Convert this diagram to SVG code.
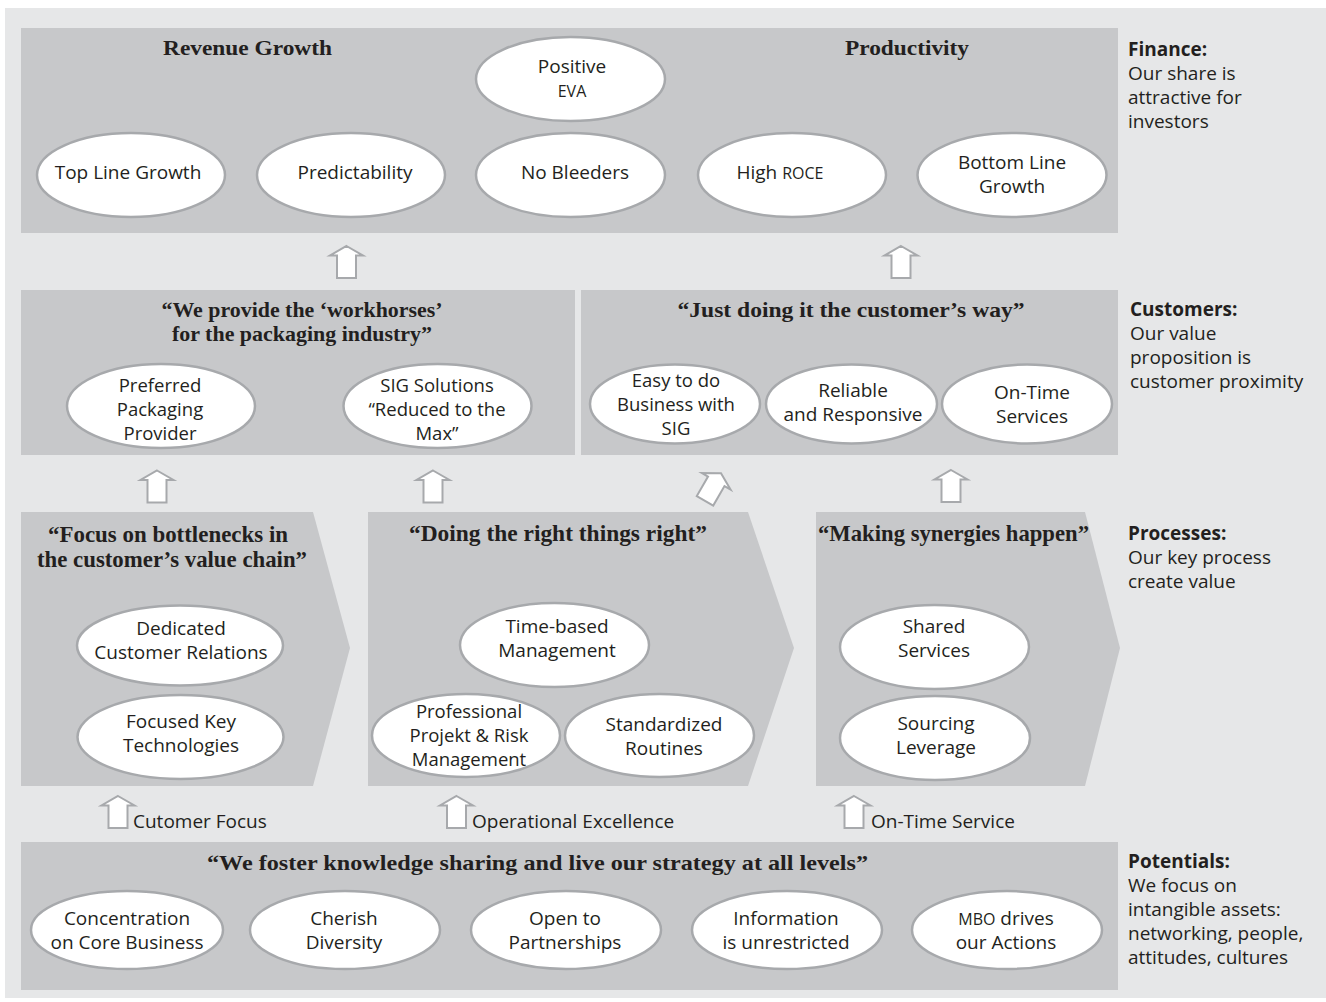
<svg xmlns="http://www.w3.org/2000/svg" width="1326" height="1002" viewBox="0 0 1326 1002">
<defs>
<style>
.bg{fill:#e6e7e8}
.box{fill:#c7c8ca}
.el{fill:#ffffff;stroke:#a7a9ac;stroke-width:2.5}
.t{font-family:"Open Sans","DejaVu Sans",sans-serif;font-size:19px;fill:#231f20;text-anchor:middle}
.t3{font-size:18.5px}
.sc{font-size:16px}
.h{font-family:"Liberation Serif","Times New Roman",serif;font-weight:700;font-size:21px;fill:#231f20;text-anchor:middle}
.hp{font-size:22.5px}
.lab{font-family:"Open Sans","DejaVu Sans",sans-serif;font-size:19px;fill:#231f20}
.b{font-weight:700}
</style>
<path id="arrow" d="M0,-16 L16.5,-6.5 L9.5,-6.5 L9.5,16 L-9.5,16 L-9.5,-6.5 L-16.5,-6.5 Z" fill="#ffffff" stroke="#a7a9ac" stroke-width="2"/>
</defs>

<rect class="bg" x="5" y="8" width="1321" height="990"/>

<!-- Finance -->
<g id="finance">
<rect class="box" x="21" y="28" width="1097" height="205"/>
<text class="h" x="247.5" y="55" textLength="169" lengthAdjust="spacingAndGlyphs">Revenue Growth</text>
<text class="h" x="907" y="55" textLength="124" lengthAdjust="spacingAndGlyphs">Productivity</text>
</g>
<g id="positive-eva">
<ellipse class="el" cx="570.5" cy="79" rx="94.5" ry="42"/>
<text class="t" x="572" y="73">Positive</text>
<text class="t sc" x="572" y="97">EVA</text>
</g>
<g id="top-line-growth">
<ellipse class="el" cx="131" cy="175" rx="94" ry="42"/>
<text class="t" x="128" y="179">Top Line Growth</text>
</g>
<g id="predictability">
<ellipse class="el" cx="351" cy="175" rx="94" ry="42"/>
<text class="t" x="355" y="179">Predictability</text>
</g>
<g id="no-bleeders">
<ellipse class="el" cx="570.5" cy="175" rx="94.5" ry="42"/>
<text class="t" x="575" y="179">No Bleeders</text>
</g>
<g id="high-roce">
<ellipse class="el" cx="792" cy="175" rx="94" ry="42"/>
<text class="t" x="780" y="179">High <tspan class="sc">ROCE</tspan></text>
</g>
<g id="bottom-line-growth">
<ellipse class="el" cx="1012" cy="175" rx="94.5" ry="42"/>
<text class="t" x="1012" y="169">Bottom Line</text>
<text class="t" x="1012" y="193">Growth</text>
</g>

<!-- Customers -->
<g id="customers-left">
<rect class="box" x="21" y="290" width="554" height="165"/>
<text class="h" x="302" y="317" textLength="281" lengthAdjust="spacingAndGlyphs">“We provide the ‘workhorses’</text>
<text class="h" x="302" y="341" textLength="260" lengthAdjust="spacingAndGlyphs">for the packaging industry”</text>
</g>
<g id="customers-right">
<rect class="box" x="581" y="290" width="537" height="165"/>
<text class="h" x="851" y="317" textLength="347" lengthAdjust="spacingAndGlyphs">“Just doing it the customer’s way”</text>
</g>
<g id="preferred-packaging-provider">
<ellipse class="el" cx="161" cy="406" rx="94" ry="42"/>
<text class="t t3" x="160" y="392">Preferred</text>
<text class="t t3" x="160" y="416">Packaging</text>
<text class="t t3" x="160" y="440">Provider</text>
</g>
<g id="sig-solutions">
<ellipse class="el" cx="437.5" cy="406" rx="94" ry="42"/>
<text class="t t3" x="437" y="392">SIG Solutions</text>
<text class="t t3" x="437" y="416">“Reduced to the</text>
<text class="t t3" x="437" y="440">Max”</text>
</g>
<g id="easy-business">
<ellipse class="el" cx="675" cy="404" rx="85" ry="39.5"/>
<text class="t t3" x="676" y="387">Easy to do</text>
<text class="t t3" x="676" y="411">Business with</text>
<text class="t t3" x="676" y="435">SIG</text>
</g>
<g id="reliable-responsive">
<ellipse class="el" cx="851.5" cy="404" rx="85.5" ry="39.5"/>
<text class="t" x="853" y="397">Reliable</text>
<text class="t" x="853" y="421">and Responsive</text>
</g>
<g id="on-time-services">
<ellipse class="el" cx="1027" cy="404" rx="85" ry="39.5"/>
<text class="t" x="1032" y="399">On-Time</text>
<text class="t" x="1032" y="423">Services</text>
</g>

<!-- Processes -->
<g id="process-focus">
<polygon class="box" points="21,512 313,512 350,648 313,786 21,786"/>
<text class="h hp" x="168" y="542" textLength="240" lengthAdjust="spacingAndGlyphs">“Focus on bottlenecks in</text>
<text class="h hp" x="172" y="567" textLength="270" lengthAdjust="spacingAndGlyphs">the customer’s value chain”</text>
</g>
<g id="process-doing">
<polygon class="box" points="368,512 748,512 794,648 748,786 368,786"/>
<text class="h hp" x="558" y="541" textLength="298" lengthAdjust="spacingAndGlyphs">“Doing the right things right”</text>
</g>
<g id="process-synergies">
<polygon class="box" points="816,512 1085,512 1120,648 1085,786 816,786"/>
<text class="h hp" x="953.5" y="541" textLength="271" lengthAdjust="spacingAndGlyphs">“Making synergies happen”</text>
</g>
<g id="dedicated-customer-relations">
<ellipse class="el" cx="180" cy="645.5" rx="103" ry="40"/>
<text class="t" x="181" y="635">Dedicated</text>
<text class="t" x="181" y="659">Customer Relations</text>
</g>
<g id="focused-key-technologies">
<ellipse class="el" cx="180.5" cy="737" rx="103" ry="42"/>
<text class="t" x="181" y="728">Focused Key</text>
<text class="t" x="181" y="752">Technologies</text>
</g>
<g id="time-based-management">
<ellipse class="el" cx="554.5" cy="645" rx="94.5" ry="42"/>
<text class="t" x="557" y="633">Time-based</text>
<text class="t" x="557" y="657">Management</text>
</g>
<g id="professional-projekt">
<ellipse class="el" cx="466" cy="735.5" rx="94" ry="41.5"/>
<text class="t t3" x="469" y="718">Professional</text>
<text class="t t3" x="469" y="742">Projekt &amp; Risk</text>
<text class="t t3" x="469" y="766">Management</text>
</g>
<g id="standardized-routines">
<ellipse class="el" cx="659.5" cy="735.5" rx="94.5" ry="41.5"/>
<text class="t" x="664" y="731">Standardized</text>
<text class="t" x="664" y="755">Routines</text>
</g>
<g id="shared-services">
<ellipse class="el" cx="934.5" cy="647" rx="94.5" ry="42"/>
<text class="t" x="934" y="633">Shared</text>
<text class="t" x="934" y="657">Services</text>
</g>
<g id="sourcing-leverage">
<ellipse class="el" cx="935" cy="738" rx="95" ry="42"/>
<text class="t" x="936" y="730">Sourcing</text>
<text class="t" x="936" y="754">Leverage</text>
</g>

<!-- Potentials -->
<g id="potentials">
<rect class="box" x="21" y="842" width="1097" height="148"/>
<text class="h" x="537.5" y="870" textLength="661" lengthAdjust="spacingAndGlyphs">“We foster knowledge sharing and live our strategy at all levels”</text>
</g>
<g id="concentration">
<ellipse class="el" cx="127" cy="930" rx="96" ry="39"/>
<text class="t" x="127" y="925">Concentration</text>
<text class="t" x="127" y="949">on Core Business</text>
</g>
<g id="cherish-diversity">
<ellipse class="el" cx="345" cy="930" rx="95" ry="39"/>
<text class="t" x="344" y="925">Cherish</text>
<text class="t" x="344" y="949">Diversity</text>
</g>
<g id="open-partnerships">
<ellipse class="el" cx="566" cy="930" rx="95" ry="39"/>
<text class="t" x="565" y="925">Open to</text>
<text class="t" x="565" y="949">Partnerships</text>
</g>
<g id="information-unrestricted">
<ellipse class="el" cx="787" cy="930" rx="95" ry="39"/>
<text class="t" x="786" y="925">Information</text>
<text class="t" x="786" y="949">is unrestricted</text>
</g>
<g id="mbo-actions">
<ellipse class="el" cx="1007" cy="930" rx="95" ry="39"/>
<text class="t" x="1006" y="925"><tspan class="sc">MBO</tspan> drives</text>
<text class="t" x="1006" y="949">our Actions</text>
</g>

<!-- Side labels -->
<g id="label-finance">
<text class="lab b" x="1128" y="56">Finance:</text>
<text class="lab" x="1128" y="80">Our share is</text>
<text class="lab" x="1128" y="104">attractive for</text>
<text class="lab" x="1128" y="128">investors</text>
</g>
<g id="label-customers">
<text class="lab b" x="1130" y="316">Customers:</text>
<text class="lab" x="1130" y="340">Our value</text>
<text class="lab" x="1130" y="364">proposition is</text>
<text class="lab" x="1130" y="388">customer proximity</text>
</g>
<g id="label-processes">
<text class="lab b" x="1128" y="540">Processes:</text>
<text class="lab" x="1128" y="564">Our key process</text>
<text class="lab" x="1128" y="588">create value</text>
</g>
<g id="label-potentials">
<text class="lab b" x="1128" y="868">Potentials:</text>
<text class="lab" x="1128" y="892">We focus on</text>
<text class="lab" x="1128" y="916">intangible assets:</text>
<text class="lab" x="1128" y="940">networking, people,</text>
<text class="lab" x="1128" y="964">attitudes, cultures</text>
</g>

<!-- Connectors -->
<g id="connectors">
<use href="#arrow" transform="translate(346.5,262)"/>
<use href="#arrow" transform="translate(901,262)"/>
<use href="#arrow" transform="translate(157,486.5)"/>
<use href="#arrow" transform="translate(433,486.5)"/>
<use href="#arrow" transform="translate(713,487) rotate(30)"/>
<use href="#arrow" transform="translate(951,486)"/>
<use href="#arrow" transform="translate(118,812)"/>
<use href="#arrow" transform="translate(456.5,812)"/>
<use href="#arrow" transform="translate(854,812)"/>
<text class="lab" x="133" y="828">Cutomer Focus</text>
<text class="lab" x="472" y="828">Operational Excellence</text>
<text class="lab" x="871" y="828">On-Time Service</text>
</g>
</svg>
